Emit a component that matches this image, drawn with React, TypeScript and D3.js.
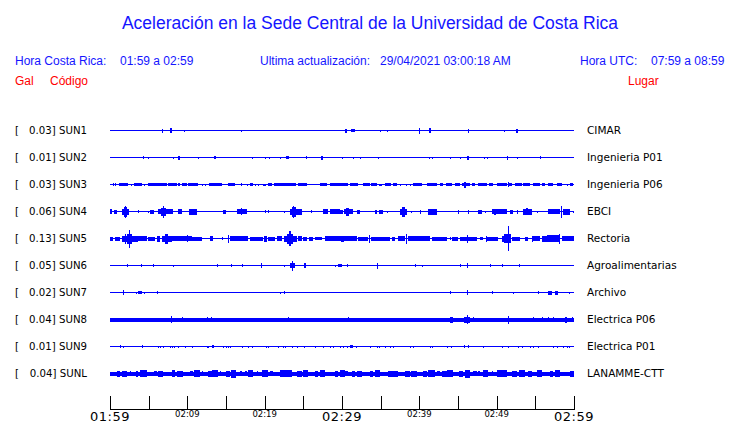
import React from "react";
import * as d3 from "d3";

type Ev = [number, number, number];

const stations = ["SUN1", "SUN2", "SUN3", "SUN4", "SUN5", "SUN6", "SUN7", "SUN8", "SUN9", "SUNL"];
const peakGal = ["0.03", "0.01", "0.03", "0.06", "0.13", "0.05", "0.02", "0.04", "0.01", "0.04"];
const places = ["CIMAR", "Ingenieria P01", "Ingenieria P06", "EBCI", "Rectoria", "Agroalimentarias", "Archivo", "Electrica P06", "Electrica P01", "LANAMME-CTT"];
const baseHalf = [0.5, 0.5, 0.5, 0.5, 0.5, 0.5, 0.5, 2, 0.5, 2];

const sun1: Ev[] = [[6.7,6.7,2],[7.7,8.0,2.5],[9.6,9.6,1],[17.0,17.0,1],[30.4,30.6,2],[31.1,31.7,1.5],[34.9,35.0,1],[35.8,35.8,1],[40.0,40.0,3],[41.2,41.5,2.5],[46.3,46.4,2],[50.9,50.9,1],[52.5,52.7,2]];
const sun2: Ev[] = [[4.3,4.3,1.5],[4.9,4.9,1],[8.2,8.2,1],[8.8,9.0,2],[11.4,11.4,1],[13.5,13.7,1.5],[18.4,18.4,1],[20.0,20.0,1],[20.6,20.6,1],[22.0,22.0,1],[22.8,23.1,1.5],[25.4,25.4,1.5],[27.3,27.6,2],[30.0,30.0,1],[31.4,31.4,1],[32.3,32.3,1],[34.6,34.6,1],[41.3,41.3,1],[41.7,41.7,1],[44.0,44.0,1],[45.2,45.2,1],[46.2,46.4,2],[48.4,48.4,1],[48.7,48.7,1],[51.4,51.5,2],[52.6,52.6,1],[55.6,55.6,1.5]];
const sun3: Ev[] = [[0.43,0.43,1.5],[0.65,0.65,1.5],[1.16,2.28,1.5],[2.7,2.7,1],[3.15,4.09,1.5],[4.44,4.44,1],[4.87,7.33,1.5],[7.54,8.62,1.5],[8.84,9.05,1.5],[9.35,9.91,1.5],[10.13,11.42,1.5],[11.85,11.85,1],[12.28,12.28,1],[12.8,14.44,1.5],[15.22,16.16,1.5],[16.94,16.94,1.5],[17.71,17.71,1],[18.1,18.53,1.5],[18.75,18.75,1],[19.18,19.18,1],[19.83,20.13,1],[20.47,20.9,1.5],[21.25,24.0,1.5],[24.27,25.43,1.5],[27.15,28.02,1.5],[28.45,29.74,1.5],[29.74,30.82,1.5],[31.03,32.11,1.5],[32.76,33.62,1.5],[33.7,34.48,1.5],[34.83,35.13,1],[35.56,36.29,1.5],[36.64,37.07,1.5],[37.5,37.5,1],[38.27,38.27,1],[38.79,38.79,1],[39.22,40.3,1.5],[40.95,42.24,1.5],[42.67,43.1,1.5],[43.45,44.18,1.5],[44.61,45.26,1.5],[45.47,46.55,1.5],[45.8,46.0,3],[46.77,47.2,1.5],[47.63,48.71,1.5],[49.05,49.57,1.5],[50.0,51.29,1.5],[51.45,51.55,2.5],[51.5,51.94,1.5],[52.37,53.23,1.5],[53.45,54.31,1.5],[54.74,55.6,1.5],[55.82,56.25,1.5],[56.68,57.33,1.5],[57.76,58.4,1.5],[59.05,59.05,1],[59.48,59.91,1.5]];
const sun4: Ev[] = [[0.0,0.3,2.5],[0.56,0.86,2],[1.51,2.46,3],[1.85,2.2,5],[2.0,2.05,6],[3.58,3.58,1.5],[4.87,4.87,1],[5.17,5.73,2],[6.25,8.19,2.5],[6.6,7.3,4],[6.85,6.95,6],[8.75,9.35,2.5],[10.2,11.3,3],[14.65,14.96,2],[16.38,17.67,2.5],[16.9,17.1,3.5],[20.04,20.04,1.5],[20.47,20.47,1.5],[22.54,22.6,1],[23.28,24.78,3],[23.5,24.0,5],[23.65,23.75,6],[25.95,25.95,1.5],[27.58,28.2,2.5],[28.5,29.74,2.5],[29.74,30.17,2],[30.26,31.46,2.5],[30.5,30.9,4],[31.9,32.33,2],[34.27,34.57,2],[34.83,35.26,2],[35.86,35.86,1],[37.5,38.36,3],[37.8,38.1,5],[38.88,38.88,1],[40.1,40.1,2],[41.16,42.33,3],[45.04,45.04,2],[46.25,46.25,2],[47.63,48.06,2],[48.49,48.49,1],[49.35,51.29,2.5],[49.7,49.9,3],[51.72,52.15,2],[52.58,52.58,2],[53.45,54.53,3],[53.8,54.0,3.5],[55.17,55.17,1],[56.68,58.19,2.5],[58.3,58.45,6],[58.53,59.48,3],[59.9,59.9,1]];
const sun5: Ev[] = [[0,0.43,2],[0.65,1.29,2],[1.51,3.66,3],[1.9,2.1,5],[2.2,2.8,5],[2.4,2.5,9],[3.66,4.74,2.5],[4.87,5.82,2],[6.03,6.47,3],[6.68,7.97,3],[7.1,7.5,5],[7.97,10.56,2.5],[9.9,10.0,3.5],[10.65,11.85,2],[12.93,13.36,2.5],[14.44,14.44,1.5],[15.3,15.35,4],[15.52,17.89,2.5],[18.1,19.83,2],[19.96,20.26,3],[20.47,21.34,2],[21.55,22.2,2.5],[22.54,24.14,3],[22.9,23.6,5],[23.2,23.35,7.5],[24.27,24.78,2.5],[25.0,25.43,2],[25.73,26.29,2],[26.5,27.37,1.5],[27.8,30.4,2.5],[29.9,30.2,3],[30.4,31.9,2.5],[32.11,33.4,2],[33.5,33.56,4],[33.7,36.2,2],[36.42,36.85,2],[37.28,38.15,2.5],[38.3,38.45,5],[38.58,41.38,2.5],[41.59,43.53,2],[43.96,43.96,1.5],[44.18,45.04,2],[45.26,47.41,2],[46.22,46.28,4],[47.84,48.28,1.5],[48.58,48.62,3],[48.71,50.22,2],[50.65,51.08,3],[51.0,51.9,4.5],[51.45,51.55,12.5],[51.94,53.02,2],[53.66,54.09,2],[54.53,54.57,3],[54.74,55.6,2.5],[55.82,56.47,3],[56.47,58.19,3.5],[58.1,58.25,5],[58.4,60,2.5]];
const sun6: Ev[] = [[2.15,2.15,1.5],[4.0,4.15,1.5],[5.6,5.6,1.5],[8.1,8.1,1],[13.8,13.8,1.5],[15.6,15.7,1.5],[17.03,17.03,1.5],[19.55,19.65,2.5],[22.54,22.54,1],[23.28,23.92,2.5],[23.5,23.65,5],[25.15,25.3,2.5],[29.09,29.09,1],[29.53,30.04,1.5],[30.69,30.69,1.5],[34.57,34.6,3],[39.5,39.6,1.5],[40.3,40.3,1],[45.2,45.3,1.5],[46.1,46.35,2.5],[49.15,49.25,1.5],[50.69,50.69,1.5],[52.85,52.95,1.5]];
const sun7: Ev[] = [[1.62,1.82,2.5],[3.32,3.32,1],[3.58,4.09,1.5],[4.44,4.44,1],[6.03,6.03,1.5],[21.98,21.98,1],[22.54,22.54,1.5],[44.0,44.1,1.5],[46.15,46.25,2.5],[49.35,49.45,1.5],[52.15,52.15,1],[55.38,55.48,1.5],[56.68,57.11,2],[57.54,57.97,2],[59.4,59.4,1]];
const sun8: Ev[] = [[7.85,7.95,3.5],[9.27,9.27,2.5],[12.5,12.5,2.5],[13.06,13.06,2.5],[23.0,23.1,2.5],[30.82,30.82,2.5],[43.96,44.3,3],[45.78,46.55,3],[46.15,46.25,4.5],[46.9,46.9,2.5],[51.45,51.55,4],[54.74,54.74,2.5],[55.82,55.82,2.5],[56.68,56.68,2.5],[57.33,57.33,2.5],[58.84,59.05,3],[59.7,59.7,2.5]];
const sun9: Ev[] = [[1.29,1.29,1.5],[1.72,1.72,1],[4.09,4.09,1.5],[6.16,6.16,1],[6.47,6.47,1],[6.9,6.9,1],[7.76,7.76,1],[7.97,7.97,1],[8.32,8.32,1],[8.84,8.84,1],[9.7,9.7,1],[10.56,10.56,1],[12.5,12.5,1],[12.72,12.72,1],[13.15,13.15,1.5],[13.36,13.36,1.5],[14.65,14.65,1],[14.96,14.96,1],[15.3,15.3,1],[15.52,15.52,1],[17.03,17.03,1],[17.89,17.89,1],[18.32,18.32,1],[20.13,20.13,1],[20.47,20.47,1],[21.68,21.68,1],[22.41,22.41,1],[22.63,22.63,1],[23.49,23.49,1],[24.14,24.14,1],[25.13,25.13,1],[26.5,26.5,1],[27.58,27.58,1],[28.45,28.45,1],[28.88,28.88,1],[29.74,29.74,1],[30.17,30.17,1],[30.6,30.6,1],[31.03,31.46,1.5],[31.81,31.81,1],[33.62,33.62,1],[34.48,34.48,1],[34.83,34.83,1],[35.56,35.56,1],[36.2,36.2,1],[36.64,36.64,1],[38.79,38.79,1],[39.14,39.14,1],[41.38,41.38,1],[41.59,41.59,1],[43.53,43.53,1],[44.09,44.09,1],[45.78,45.78,1.5],[46.34,46.34,1.5],[48.28,48.28,1],[50.65,50.65,1],[51.51,51.51,1],[52.8,52.8,1],[53.23,53.23,1],[54.31,54.31,1],[54.74,54.74,1],[55.39,55.39,1],[57.33,57.33,1],[57.76,57.76,1],[58.62,58.62,1],[59.05,59.05,1],[59.4,59.4,1]];
const sunL: Ev[] = [[0.86,1.29,3],[1.51,2.15,3],[2.59,2.59,2.5],[3.32,3.66,3],[3.88,4.74,3.5],[5.73,6.03,2.5],[6.25,6.9,3],[7.97,8.4,3.5],[8.62,9.48,3],[10.35,10.78,2.5],[10.91,11.64,3.5],[11.85,11.85,2.5],[12.72,13.15,3],[13.23,14.0,3.5],[14.22,14.22,2.5],[14.96,15.52,3],[15.65,16.25,4],[16.81,17.03,2.5],[17.46,17.67,2.5],[17.89,18.53,3.5],[18.96,18.96,2.5],[19.61,20.47,3.5],[20.69,21.12,2.5],[21.98,23.49,3.5],[24.14,24.78,3],[25.0,25.65,3.5],[26.5,26.94,3],[27.15,27.8,3.5],[29.09,29.53,3],[29.74,30.4,3.5],[30.39,30.82,2.5],[31.25,31.68,3],[31.9,32.54,3],[33.62,34.05,3],[34.27,34.91,3.5],[35.99,37.28,3],[38.15,38.79,3],[38.88,39.65,3],[40.52,40.95,3],[41.16,42.03,3.5],[42.24,42.67,2.5],[42.89,43.53,3],[43.53,44.4,3.5],[45.17,45.6,3],[45.9,46.55,4],[46.98,47.41,2.5],[47.63,47.84,2.5],[48.28,48.92,3.5],[49.35,49.35,2.5],[49.99,51.29,3.5],[51.94,52.58,3],[52.89,53.66,3.5],[54.09,54.53,3],[55.17,55.82,3.5],[56.9,57.33,3],[57.54,58.19,3.5],[59.48,60,3]];
const traceEvents: Ev[][] = [sun1, sun2, sun3, sun4, sun5, sun6, sun7, sun8, sun9, sunL];

const tickMinutes = d3.range(0, 61, 5);
const majorTicks = [0, 30, 60];
const majorLabels = ["01:59", "02:29", "02:59"];
const minorTicks = [10, 20, 40, 50];
const minorLabels = ["02:09", "02:19", "02:39", "02:49"];

const BLUE = "#0000ff";
const TXT_BLUE = "#1515ff";
const RED = "#ff0000";

export default function App() {
  const x = d3.scaleLinear().domain([0, 60]).range([110, 574]);
  const y = d3.scaleBand<string>().domain(stations).range([116.5, 386.5]);
  const amp = d3.scaleLinear().domain([0, 1]).range([0, 1]);
  const cy = (s: string) => Math.round((y(s) as number) + y.bandwidth() / 2);

  const hdr = { fontFamily: "'Liberation Sans', Arial, sans-serif", fontSize: 12, fill: TXT_BLUE } as const;
  const lab = { fontFamily: "'DejaVu Sans', sans-serif", fontSize: 10.2, fill: "#000" } as const;
  const rlab = { fontFamily: "'DejaVu Sans', sans-serif", fontSize: 10.5, fill: "#000" } as const;

  const band = (c: number, h: number) => {
    const y0 = Math.round(c + 0.5 - amp(h));
    const y1 = Math.round(c + 0.5 + amp(h));
    return { y: y0, height: Math.max(1, y1 - y0) };
  };

  return (
    <svg width={740} height={423} style={{ position: "absolute", left: 0, top: 0, background: "#fff" }}>
      <text x={370} y={29} textAnchor="middle" style={{ fontFamily: "'Liberation Sans', Arial, sans-serif", fontSize: 17.5, fill: TXT_BLUE }}>
        Aceleración en la Sede Central de la Universidad de Costa Rica
      </text>
      <text x={15} y={65} style={hdr}>Hora Costa Rica:</text>
      <text x={120} y={65} style={hdr}>01:59 a 02:59</text>
      <text x={260} y={65} style={hdr}>Ultima actualización:</text>
      <text x={380} y={65} style={hdr}>29/04/2021 03:00:18 AM</text>
      <text x={580} y={65} style={hdr}>Hora UTC:</text>
      <text x={651} y={65} style={hdr}>07:59 a 08:59</text>
      <text x={15} y={85} style={{ ...hdr, fill: RED }}>Gal</text>
      <text x={50} y={85} style={{ ...hdr, fill: RED }}>Código</text>
      <text x={628} y={85} style={{ ...hdr, fill: RED }}>Lugar</text>

      {stations.map((s, i) => {
        const c = cy(s);
        const b = band(c, baseHalf[i]);
        return (
          <g key={s}>
            <text x={15} y={c + 4} style={lab}>[</text>
            <text x={87} y={c + 4} textAnchor="end" style={lab}>{peakGal[i]}] {s}</text>
            <text x={587} y={c + 4} style={rlab}>{places[i]}</text>
            <g fill={BLUE} shapeRendering="crispEdges">
              <rect x={x(0)} y={b.y} width={x(60) - x(0)} height={b.height} />
              {traceEvents[i].map((e, j) => {
                const x0 = Math.round(x(e[0]));
                const x1 = Math.max(Math.round(x(e[1])), x0 + 1);
                const r = band(c, e[2]);
                return <rect key={j} x={x0} y={r.y} width={x1 - x0} height={r.height} />;
              })}
            </g>
          </g>
        );
      })}

      <g shapeRendering="crispEdges" stroke="#000" strokeWidth={1}>
        <line x1={x(0)} x2={x(60) + 0.5} y1={409.5} y2={409.5} />
        {tickMinutes.map((t) => (
          <line key={t} x1={Math.round(x(t)) + 0.5} x2={Math.round(x(t)) + 0.5} y1={396} y2={409} />
        ))}
      </g>
      {majorTicks.map((t, i) => (
        <text key={t} x={x(t)} y={421} textAnchor="middle" style={{ fontFamily: "'DejaVu Sans', sans-serif", fontSize: 13, fill: "#000", letterSpacing: 0.5 }}>
          {majorLabels[i]}
        </text>
      ))}
      {minorTicks.map((t, i) => (
        <text key={t} x={x(t)} y={417} textAnchor="middle" style={{ fontFamily: "'DejaVu Sans', sans-serif", fontSize: 8.5, fill: "#000" }}>
          {minorLabels[i]}
        </text>
      ))}
    </svg>
  );
}
